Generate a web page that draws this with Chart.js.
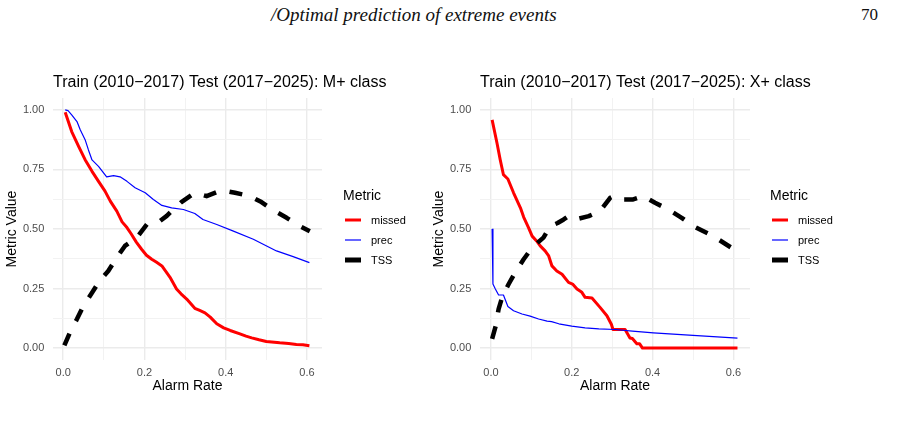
<!DOCTYPE html>
<html>
<head>
<meta charset="utf-8">
<script src="https://cdn.jsdelivr.net/npm/chart.js"></script>
<style>
body{margin:0;background:#fff;width:898px;height:425px;overflow:hidden;position:relative}
#head{position:absolute;top:4px;left:271px;font:italic 19px "Liberation Serif",serif;color:#111;white-space:nowrap}
#page{position:absolute;top:5px;left:861px;font:17px "Liberation Serif",serif;color:#111}
canvas{position:absolute;top:0}
#c1{left:0}
#c2{left:427px}
</style>
</head>
<body>
<div id="head">/Optimal prediction of extreme events</div>
<div id="page">70</div>
<canvas id="c1" width="427" height="425"></canvas>
<canvas id="c2" width="471" height="425"></canvas>
<script>
// M+ class
let mMissedX=[0.005,0.021,0.038,0.054,0.071,0.087,0.103,0.116,0.132,0.145,0.157,0.168,0.18,0.193,0.205,0.218,0.23,0.243,0.263,0.279,0.29,0.304,0.324,0.336,0.349,0.362,0.378,0.395,0.411,0.435,0.45,0.464,0.482,0.5,0.533,0.555,0.574,0.59,0.606]
let mMissedY=[0.99,0.909,0.847,0.791,0.742,0.70,0.659,0.617,0.575,0.53,0.506,0.478,0.445,0.415,0.39,0.373,0.36,0.345,0.297,0.248,0.228,0.206,0.167,0.158,0.148,0.13,0.102,0.085,0.074,0.06,0.05,0.043,0.035,0.028,0.022,0.019,0.015,0.014,0.01]
let mPrecX=[0.005,0.012,0.021,0.034,0.042,0.054,0.062,0.071,0.087,0.107,0.124,0.14,0.157,0.177,0.202,0.222,0.243,0.267,0.296,0.324,0.344,0.378,0.419,0.468,0.525,0.566,0.606]
let mPrecY=[1.0,0.997,0.979,0.951,0.917,0.875,0.833,0.79,0.763,0.719,0.724,0.719,0.70,0.673,0.652,0.624,0.599,0.589,0.582,0.565,0.54,0.519,0.491,0.457,0.408,0.384,0.359]
let mTssX=[0.003,0.017,0.034,0.05,0.069,0.09,0.111,0.132,0.152,0.181,0.206,0.222,0.238,0.255,0.271,0.291,0.324,0.353,0.39,0.423,0.46,0.488,0.521,0.55,0.583,0.607]
let mTssY=[0.011,0.067,0.122,0.178,0.227,0.283,0.324,0.38,0.429,0.464,0.519,0.525,0.533,0.555,0.582,0.613,0.652,0.638,0.663,0.652,0.638,0.613,0.575,0.547,0.512,0.491]

// X+ class
let xMissedX=[0.003,0.015,0.023,0.031,0.042,0.056,0.073,0.081,0.093,0.102,0.113,0.122,0.134,0.143,0.151,0.163,0.176,0.192,0.202,0.213,0.225,0.233,0.25,0.27,0.287,0.298,0.302,0.332,0.344,0.35,0.361,0.368,0.375,0.61]
let xMissedY=[0.958,0.861,0.791,0.728,0.71,0.652,0.589,0.55,0.506,0.47,0.45,0.429,0.408,0.387,0.345,0.324,0.31,0.276,0.269,0.248,0.234,0.213,0.21,0.171,0.136,0.1,0.078,0.078,0.042,0.04,0.018,0.018,0,0]
let xPrecX=[0.003,0.005,0.011,0.019,0.031,0.042,0.056,0.077,0.097,0.118,0.139,0.15,0.168,0.2,0.233,0.267,0.308,0.35,0.402,0.5,0.61]
let xPrecY=[0.5,0.269,0.248,0.223,0.223,0.175,0.157,0.143,0.134,0.122,0.113,0.111,0.102,0.092,0.085,0.081,0.078,0.071,0.064,0.053,0.042]
let xTssX=[0.003,0.012,0.019,0.029,0.044,0.06,0.081,0.102,0.13,0.147,0.165,0.18,0.192,0.209,0.242,0.27,0.295,0.304,0.319,0.352,0.377,0.406,0.439,0.472,0.501,0.55,0.61]
let xTssY=[0.039,0.094,0.164,0.22,0.269,0.318,0.373,0.422,0.464,0.512,0.525,0.54,0.554,0.54,0.554,0.575,0.631,0.638,0.624,0.624,0.638,0.61,0.582,0.547,0.512,0.47,0.405]

let xTicks=[0,0.1,0.2,0.3,0.4,0.5,0.6]
let yTicks=[0,0.125,0.25,0.375,0.5,0.625,0.75,0.875,1]

const FONT='"Liberation Sans", Arial, sans-serif'

function pts(xs,ys){
return xs.map((x,i)=>({x:x,y:ys[i]}))
}

function isMajorX(v){return Math.round(v*10)%2===0}
function isMajorY(v){return Math.round(v*8)%2===0}

/* panel title + legend on the right, ggplot style */
const metricLegend={
id:'metricLegend',
afterDraw(chart,args,opts){
const ctx=chart.ctx
ctx.save()
ctx.fillStyle='#000'
ctx.textBaseline='middle'
ctx.textAlign='left'
ctx.font='16px '+FONT
ctx.fillText(opts.title,chart.chartArea.left,82.6)
ctx.font='14px '+FONT
ctx.fillText('Metric',343,196)
ctx.font='11px '+FONT
chart.data.datasets.forEach((ds,i)=>{
let y=220+i*20
ctx.strokeStyle=ds.borderColor
ctx.lineWidth=ds.legendWidth
ctx.setLineDash([])
ctx.lineCap='butt'
ctx.beginPath()
ctx.moveTo(345,y)
ctx.lineTo(361,y)
ctx.stroke()
ctx.fillText(ds.label,371,y+0.5)
})
ctx.restore()
}
}

function makeChart(id,title,missed,prec,tss,xMin,xMax,padRight){
new Chart(document.getElementById(id),{
type:'line',
data:{
datasets:[
{label:'missed',data:missed,borderColor:'#ff0000',borderWidth:3,legendWidth:3,order:2},
{label:'prec',data:prec,borderColor:'#0000ff',borderWidth:1.2,legendWidth:1.2,order:1},
{label:'TSS',data:tss,borderColor:'#000000',borderWidth:4.5,legendWidth:5,borderDash:[13,14],order:0}
]
},
options:{
responsive:false,
animation:false,
parsing:false,
elements:{
point:{radius:0},
line:{tension:0,borderCapStyle:'butt',borderJoinStyle:'round',fill:false}
},
layout:{padding:{left:0,right:padRight,top:98,bottom:0}},
plugins:{
legend:{display:false},
tooltip:{enabled:false},
title:{display:false},
metricLegend:{title:title}
},
scales:{
x:{
type:'linear',
min:xMin,
max:xMax,
afterBuildTicks:s=>{s.ticks=xTicks.map(v=>({value:v}))},
afterFit:s=>{s.height=65},
grid:{
drawTicks:false,
color:c=>isMajorX(c.tick.value)?'#ebebeb':'#f2f2f2',
lineWidth:c=>isMajorX(c.tick.value)?1.4:1
},
border:{display:false},
ticks:{
padding:6,
color:'#4d4d4d',
font:{family:FONT,size:11},
maxRotation:0,
autoSkip:false,
callback:v=>isMajorX(v)?v.toFixed(1):''
},
title:{display:true,text:'Alarm Rate',color:'#000',font:{family:FONT,size:14},padding:{top:0,bottom:30}}
},
y:{
type:'linear',
min:-0.05,
max:1.05,
afterBuildTicks:s=>{s.ticks=yTicks.map(v=>({value:v}))},
afterFit:s=>{s.width=53},
grid:{
drawTicks:false,
color:c=>isMajorY(c.tick.value)?'#ebebeb':'#f2f2f2',
lineWidth:c=>isMajorY(c.tick.value)?1.4:1
},
border:{display:false},
ticks:{
padding:8.7,
color:'#4d4d4d',
font:{family:FONT,size:11},
autoSkip:false,
callback:v=>isMajorY(v)?v.toFixed(2):''
},
title:{display:true,text:'Metric Value',color:'#000',font:{family:FONT,size:14},padding:{top:4,bottom:0}}
}
}
},
plugins:[metricLegend]
})
}

makeChart('c1','Train (2010\u22122017) Test (2017\u22122025): M+ class',
pts(mMissedX,mMissedY),pts(mPrecX,mPrecY),pts(mTssX,mTssY),-0.025,0.637,105)

makeChart('c2','Train (2010\u22122017) Test (2017\u22122025): X+ class',
pts(xMissedX,xMissedY),pts(xPrecX,xPrecY),pts(xTssX,xTssY),-0.027,0.641,148)
</script>
</body>
</html>
